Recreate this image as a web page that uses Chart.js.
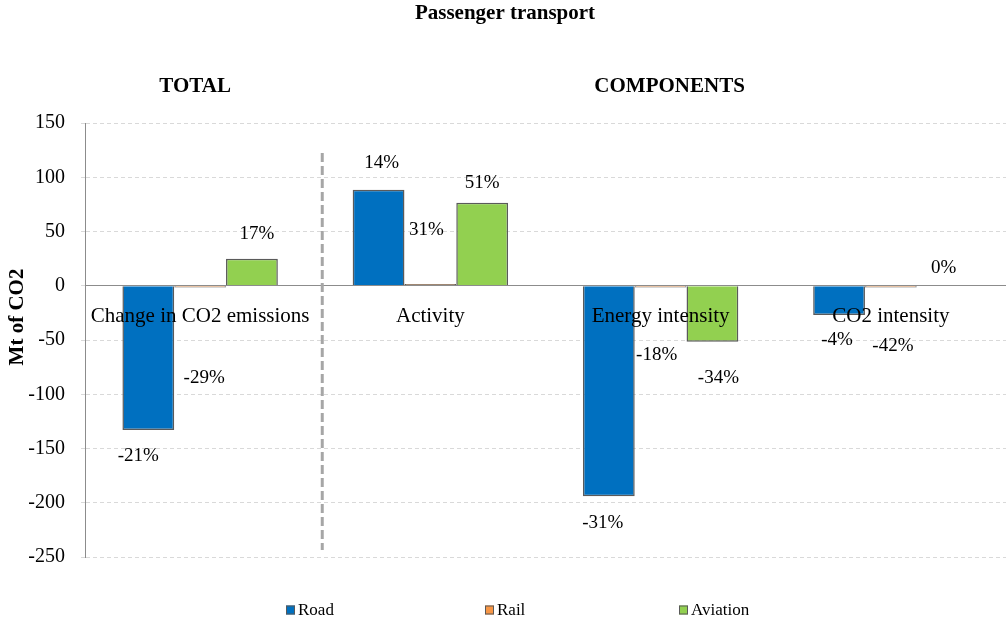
<!DOCTYPE html>
<html><head><meta charset="utf-8">
<script src="https://cdn.jsdelivr.net/npm/chart.js@4.4.0/dist/chart.umd.min.js"></script>
<style>html,body{margin:0;padding:0;background:#fff;} canvas{display:block;}</style>
</head><body>
<canvas id="c" width="1006" height="620"></canvas>
<script>
// ---- data ----
const categories = ['Change in CO2 emissions', 'Activity', 'Energy intensity', 'CO2 intensity'];
const seriesNames = ['Road', 'Rail', 'Aviation'];
const roadValues = [-133, 88.5, -194, -27];
const railValues = [-1.5, 1.5, -1.5, -1.5];
const aviationValues = [25, 76.5, -51.5, 0];
const roadLabels = ['-21%', '14%', '-31%', '-4%'];
const railLabels = ['-29%', '31%', '-18%', '-42%'];
const aviationLabels = ['17%', '51%', '-34%', '0%'];
const yMin = -250, yMax = 150, yStep = 50;
const chartTitle = 'Passenger transport';
const groupTitles = ['TOTAL', 'COMPONENTS'];
const yAxisTitle = 'Mt of CO2';

// ---- styles ----
const FONT = '"Liberation Serif", "Times New Roman", serif';
const colors = ['#0070C0', '#F79646', '#92D050'];
const labelOffsets = [
  [[-10, 26], [3, -27], [-6, 27], [-2, 25]],
  [[4, 91], [-4, -54], [-4, 68], [2, 59]],
  [[5, -25], [0, -20], [6, 36], [1, -18]]
];
const labelSets = [roadLabels, railLabels, aviationLabels];

const decorPlugin = {
  id: 'decor',
  afterDraw(chart) {
    const ctx = chart.ctx;
    const xs = chart.scales.x;
    ctx.save();
    // separator
    const sx = xs.getPixelForValue(0.5) + 7;
    ctx.strokeStyle = '#A6A6A6';
    ctx.lineWidth = 3;
    ctx.setLineDash([9, 4]);
    ctx.beginPath();
    ctx.moveTo(sx, 153);
    ctx.lineTo(sx, 550);
    ctx.stroke();
    ctx.setLineDash([]);
    // value labels
    ctx.fillStyle = '#000';
    ctx.font = '19px ' + FONT;
    ctx.textAlign = 'center';
    ctx.textBaseline = 'middle';
    chart.data.datasets.forEach((ds, di) => {
      const meta = chart.getDatasetMeta(di);
      meta.data.forEach((bar, i) => {
        const off = labelOffsets[di][i];
        ctx.fillText(labelSets[di][i], bar.x + off[0], bar.y + off[1]);
      });
    });
    // titles
    ctx.font = 'bold 21px ' + FONT;
    ctx.fillText(chartTitle, 505, 14);
    ctx.fillText(groupTitles[0], xs.getPixelForValue(0) - 5, 87);
    ctx.fillText(groupTitles[1], xs.getPixelForValue(2) + 9, 87);
    // y axis title
    ctx.save();
    ctx.translate(18, 317);
    ctx.rotate(-Math.PI / 2);
    ctx.fillText(yAxisTitle, 0, 0);
    ctx.restore();
    // legend
    ctx.font = '17px ' + FONT;
    ctx.textAlign = 'left';
    const lx = [286, 485, 679];
    chart.data.datasets.forEach((ds, di) => {
      const x = lx[di], y = 610;
      ctx.fillStyle = ds.backgroundColor;
      ctx.fillRect(x, y - 4.5, 9, 9);
      ctx.strokeStyle = '#595959';
      ctx.lineWidth = 1;
      ctx.strokeRect(x + 0.5, y - 4, 8, 8);
      ctx.fillStyle = '#000';
      ctx.fillText(ds.label, x + 12, y + 1);
    });
    ctx.restore();
  }
};

new Chart(document.getElementById('c'), {
  type: 'bar',
  data: {
    labels: categories,
    datasets: [
      { label: seriesNames[0], data: roadValues, backgroundColor: colors[0] },
      { label: seriesNames[1], data: railValues, backgroundColor: colors[1] },
      { label: seriesNames[2], data: aviationValues, backgroundColor: colors[2] }
    ]
  },
  options: {
    responsive: false,
    animation: false,
    devicePixelRatio: 1,
    layout: { padding: { top: 123, bottom: 63, left: 0, right: 0 } },
    datasets: { bar: { categoryPercentage: 0.675, barPercentage: 1, borderColor: '#5A5A5A', borderWidth: 1.5 } },
    plugins: { legend: { display: false }, title: { display: false }, tooltip: { enabled: false } },
    scales: {
      x: {
        position: { y: 0 },
        grid: { display: false },
        border: { display: true, color: '#8C8C8C', width: 1, z: 1 },
        ticks: { z: 1, color: '#000', font: { family: FONT, size: 21 }, padding: 10, maxRotation: 0, autoSkip: false }
      },
      y: {
        min: yMin, max: yMax,
        ticks: { stepSize: yStep, color: '#000', font: { family: FONT, size: 20 }, padding: 16 },
        grid: { color: '#D9D9D9', tickLength: 4 },
        border: { display: true, color: '#8C8C8C', dash: [4, 3] },
        title: { display: false },
        afterFit(scale) { scale.width = 85; }
      }
    }
  },
  plugins: [decorPlugin]
});
</script>
</body></html>
